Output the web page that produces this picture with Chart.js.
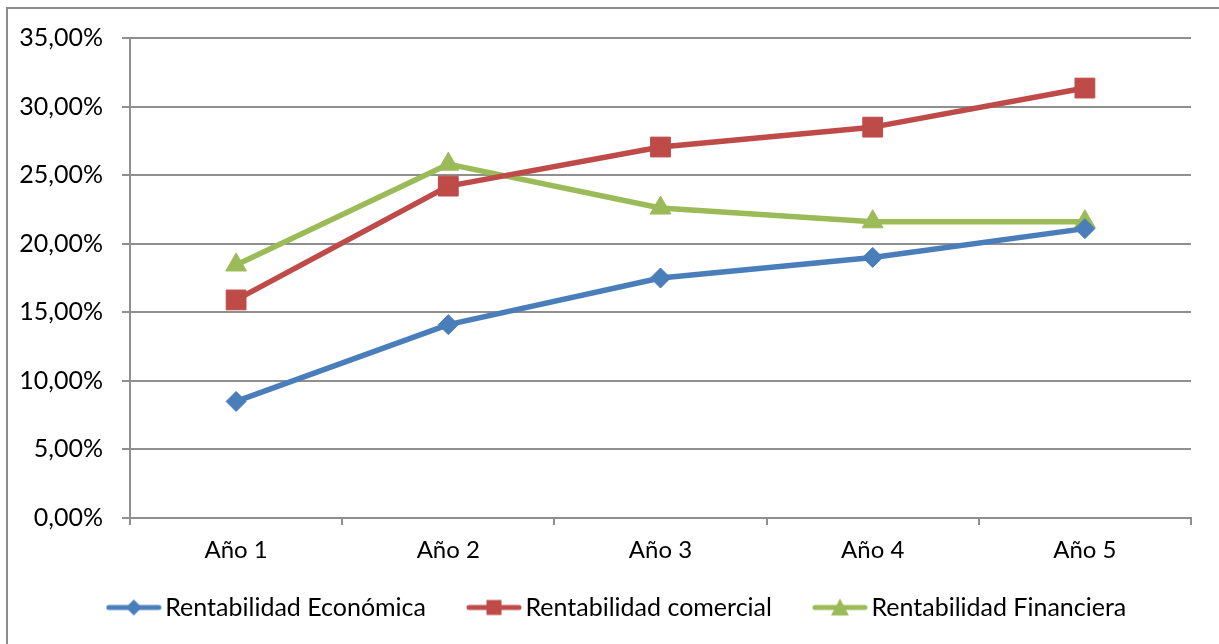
<!DOCTYPE html>
<html>
<head>
<meta charset="utf-8">
<script src="https://cdn.jsdelivr.net/npm/chart.js@4"></script>
<style>
  body { margin: 0; background: #fff; overflow: hidden; }
  #marco { position: absolute; left: 6px; top: 7px; width: 1300px; height: 700px; border: 2px solid #8c8c8c; }
  #grafico { position: absolute; left: 0; top: 0; }
</style>
</head>
<body>
<div id="marco"></div>
<canvas id="grafico" width="1219" height="644"></canvas>
<script>
// Datos de rentabilidad por año (en %)
const categorias = ['Año 1', 'Año 2', 'Año 3', 'Año 4', 'Año 5'];
const economica = [8.5, 14.1, 17.5, 19.0, 21.1];
const comercial = [15.9, 24.2, 27.05, 28.5, 31.35];
const financiera = [18.45, 25.8, 22.6, 21.6, 21.6];
const yMin = 0, yMax = 35, yPaso = 5;

const azul = '#4A7EBB';
const rojo = '#BE4B48';
const verde = '#9BBB59';
const gris = '#8f8f8f';

Chart.defaults.font.family = 'Lato, "Liberation Sans", sans-serif';
Chart.defaults.font.size = 25;
Chart.defaults.color = '#000';

// Icono de leyenda: línea con el marcador en el centro
function iconoLeyenda(color, forma) {
    const c = document.createElement('canvas');
    c.width = 56; c.height = 22;
    const ctx = c.getContext('2d');
    ctx.strokeStyle = color;
    ctx.lineWidth = 5;
    ctx.lineCap = 'round';
    ctx.beginPath();
    ctx.moveTo(3, 11); ctx.lineTo(53, 11);
    ctx.stroke();
    ctx.fillStyle = color;
    ctx.beginPath();
    if (forma === 'rombo') {
        ctx.moveTo(28, 3); ctx.lineTo(36, 11); ctx.lineTo(28, 19); ctx.lineTo(20, 11);
    } else if (forma === 'cuadrado') {
        ctx.rect(20.5, 3.5, 15, 15);
    } else {
        ctx.moveTo(28, 2); ctx.lineTo(37, 19); ctx.lineTo(19, 19);
    }
    ctx.closePath();
    ctx.fill();
    return c;
}
const iconos = [iconoLeyenda(azul, 'rombo'), iconoLeyenda(rojo, 'cuadrado'), iconoLeyenda(verde, 'triangulo')];

function serie(nombre, datos, color, forma, radio) {
    return {
        label: nombre,
        data: datos,
        borderColor: color,
        backgroundColor: color,
        borderWidth: 5.5,
        borderCapStyle: 'round',
        borderJoinStyle: 'round',
        pointStyle: forma,
        pointRadius: radio,
        pointHoverRadius: radio,
        pointBorderWidth: 1,
        tension: 0
    };
}

// La leyenda: franja baja fija y desplazada un poco a la derecha,
// con separación amplia entre elementos
const posLeyenda = {
    id: 'posLeyenda',
    afterInit(chart) {
        const leyenda = chart.legend;
        const fitOriginal = leyenda.fit;
        leyenda.fit = function () {
            fitOriginal.call(this);
            this.height = 79;
        };
    },
    afterLayout(chart) {
        const leyenda = chart.legend;
        leyenda.top = 546;
        leyenda.left += 25;
        leyenda.right += 25;
    }
};

const ctx = document.getElementById('grafico').getContext('2d');
const grafico = new Chart(ctx, {
    type: 'line',
    data: {
        labels: categorias,
        datasets: [
            serie('Rentabilidad Económica', economica, azul, 'rectRot', 10),
            serie('Rentabilidad comercial', comercial, rojo, 'rect', 14),
            serie('Rentabilidad Financiera', financiera, verde, 'triangle', 12)
        ]
    },
    plugins: [posLeyenda],
    options: {
        responsive: false,
        animation: false,
        layout: { padding: { left: 0, top: 38, right: 28, bottom: 0 } },
        scales: {
            x: {
                offset: true,
                grid: { offset: true, drawOnChartArea: false, drawTicks: true, tickLength: 7, color: gris, lineWidth: 2 },
                border: { color: gris, width: 2 },
                ticks: { padding: 11, font: { size: 24 } },
                afterFit: (scale) => { scale.height = 47; }
            },
            y: {
                min: yMin,
                max: yMax,
                ticks: {
                    stepSize: yPaso,
                    padding: 19,
                    callback: (v) => v.toFixed(2).replace('.', ',') + '%'
                },
                grid: { color: gris, lineWidth: 2, tickLength: 8 },
                border: { color: gris, width: 2 },
                afterFit: (scale) => { scale.width = 130; }
            }
        },
        plugins: {
            tooltip: { enabled: false },
            legend: {
                position: 'bottom',
                labels: {
                    usePointStyle: true,
                    pointStyleWidth: 38,
                    padding: 49,
                    generateLabels: (chart) => {
                        const items = Chart.defaults.plugins.legend.labels.generateLabels(chart);
                        items.forEach((it, i) => { it.pointStyle = iconos[i]; });
                        return items;
                    }
                }
            }
        }
    }
});
</script>
</body>
</html>
